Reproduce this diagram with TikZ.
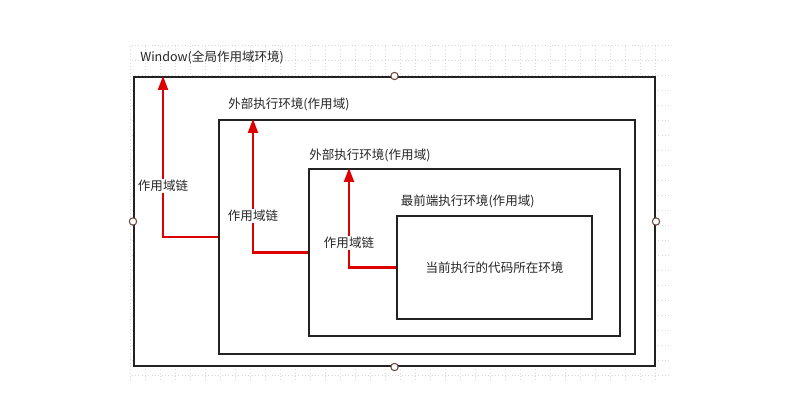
\documentclass[tikz,border=0pt]{standalone}
\usepackage{fontspec}
\setmainfont{Noto Sans CJK SC}
\usetikzlibrary{arrows.meta}
\definecolor{boxline}{RGB}{34,34,34}
\definecolor{chainred}{RGB}{222,0,0}
\definecolor{dotcol}{RGB}{110,70,60}
\definecolor{gridcol}{RGB}{215,215,215}
\begin{document}
\begin{tikzpicture}[x=0.75pt,y=-0.75pt,
  every node/.style={font=\fontsize{9.4pt}{11pt}\selectfont, text=black!85},
  envbox/.style={draw=boxline, line width=1.5pt, fill=white, rectangle, inner sep=0pt},
  chain/.style={draw=chainred, line width=1.6pt, -{Triangle[length=10.5pt,width=7.5pt]}},
  chainlabel/.style={fill=white, inner sep=1pt},
  envlabel/.style={anchor=west, inner sep=0pt},
  handle/.style={circle, draw=dotcol, fill=white, line width=0.8pt, minimum size=5.5pt, inner sep=0pt}]
\useasboundingbox (0,0) rectangle (800,420);
\fill[white] (0,0) rectangle (800,420);
% faint background grid
\begin{scope}
\clip (130,45) rectangle (670,382);
\draw[gridcol, dotted, line width=0.5pt, xshift=-5*0.75pt] (130,45) grid[step=15*0.75pt] (690,390);
\end{scope}
% boxes
\node[envbox, minimum width={521*0.75pt}, minimum height={289*0.75pt}] (box1) at (394.5,221.5) {};
\node[envbox, minimum width={416*0.75pt}, minimum height={234*0.75pt}] (box2) at (427,237) {};
\node[envbox, minimum width={311*0.75pt}, minimum height={167*0.75pt}] (box3) at (464.5,252.5) {};
\node[envbox, minimum width={195*0.75pt}, minimum height={103*0.75pt}] (box4) at (494.5,267.5) {};
% handles
\node[handle] (h1) at (box1.north) {};
\node[handle] (h2) at (box1.south) {};
\node[handle] (h3) at (box1.west) {};
\node[handle] (h4) at (box1.east) {};
% labels
\node[envlabel] (l1) at (140,57) {Window(全局作用域环境)};
\node[envlabel] (l2) at (228,104) {外部执行环境(作用域)};
\node[envlabel] (l3) at (309,155) {外部执行环境(作用域)};
\node[envlabel] (l4) at (400.5,201) {最前端执行环境(作用域)};
\node (cur) at (box4.center) {当前执行的代码所在环境};
% chain arrows
\coordinate (c1) at (163,0);
\coordinate (c2) at (253,0);
\coordinate (c3) at (349,0);
\draw[chain] (box2.west) -| (box1.north west -| c1);
\draw[chain] (box3.west) -| (box2.north west -| c2);
\draw[chain] (box4.west) -| (box3.north west -| c3);
\node[chainlabel] (t1) at (163,186) {作用域链};
\node[chainlabel] (t2) at (253,216) {作用域链};
\node[chainlabel] (t3) at (349,243) {作用域链};
\end{tikzpicture}
\end{document}
